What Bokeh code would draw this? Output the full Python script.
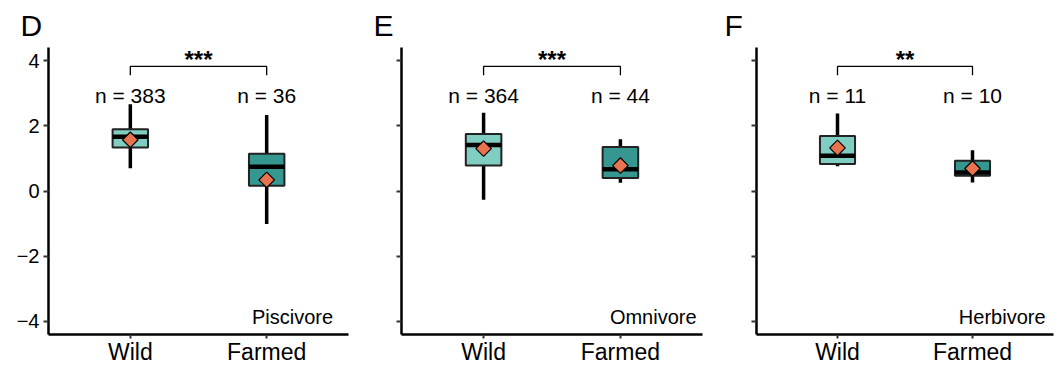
from bokeh.plotting import figure
from bokeh.layouts import row
from bokeh.models import FactorRange, Range1d, FixedTicker, CustomJSTickFormatter, ColumnDataSource
from bokeh.core.properties import value
from bokeh.embed import file_html
from bokeh.resources import INLINE
import math

# ---------------- data ----------------
groups = ["Wild", "Farmed"]
panel_letters = ["D", "E", "F"]
diets = ["Piscivore", "Omnivore", "Herbivore"]
n_counts = [[383, 36], [364, 44], [11, 10]]
signif = ["***", "***", "**"]

whisker_low = [[0.70, -1.01], [-0.27, 0.25], [0.76, 0.26]]
q1 = [[1.33, 0.16], [0.78, 0.40], [0.83, 0.47]]
median = [[1.66, 0.74], [1.41, 0.67], [1.08, 0.57]]
q3 = [[1.89, 1.14], [1.75, 1.35], [1.69, 0.93]]
whisker_high = [[2.66, 2.33], [2.40, 1.59], [2.38, 1.25]]
means = [[1.57, 0.34], [1.30, 0.78], [1.32, 0.69]]

y_ticks = [-4, -2, 0, 2, 4]

# ---------------- style / layout ----------------
FONT = "Liberation Sans"
fills = ["#80CDC1", "#35978F"]
mean_color = "#E8734F"
widths = [355, 353, 355]
border_left = [48, 46, 48]
border_right = [7, 6, 10]
letter_dx = [-28, -28, -32]
diet_x = [1.69, 1.74, 1.72]
box_w = 0.26

plots = []
for i in range(3):
    p = figure(
        width=widths[i], height=367,
        x_range=FactorRange(factors=groups, range_padding=0.1, range_padding_units="absolute"),
        y_range=Range1d(-4.4, 4.4),
        output_backend="svg", toolbar_location=None,
        min_border_left=border_left[i], min_border_right=border_right[i],
        min_border_top=47, min_border_bottom=33,
        title=panel_letters[i],
    )
    p.title.text_font = FONT
    p.title.text_font_size = "30px"
    p.title.text_font_style = "normal"
    p.title.text_color = "black"
    p.title.align = "left"
    p.title.offset = letter_dx[i]
    p.title.standoff = 11

    p.outline_line_color = None
    p.xgrid.visible = False
    p.ygrid.visible = False
    p.background_fill_color = "white"
    p.border_fill_color = "white"

    src = ColumnDataSource(dict(
        x=groups,
        lo=whisker_low[i], q1=q1[i], med=median[i], q3=q3[i], hi=whisker_high[i],
        mean=means[i], fill=fills,
        n=["n = %d" % v for v in n_counts[i]],
    ))

    # whiskers
    p.segment(x0="x", y0="lo", x1="x", y1="hi", source=src, line_color="black", line_width=3.5)
    # boxes
    p.vbar(x="x", width=box_w, bottom="q1", top="q3", source=src,
           fill_color="fill", line_color="#222222", line_width=2)
    # median
    p.vbar(x="x", width=box_w, bottom="med", top="med", source=src,
           fill_color=None, line_color="black", line_width=4.5)
    # mean
    p.scatter(x="x", y="mean", source=src, marker="square", size=11, angle=math.pi / 4,
              fill_color=mean_color, line_color="black", line_width=1.2)
    # n labels
    p.text(x="x", y=2.94, text="n", source=src, text_font=value(FONT), text_font_size="21px",
           text_align="center", text_baseline="middle", text_color="black")
    # significance bracket
    p.multi_line(xs=[[groups[0], groups[0], groups[1], groups[1]]],
                 ys=[[3.55, 3.82, 3.82, 3.55]], line_color="black", line_width=1.3)
    p.text(x=[1.0], y=[4.04], text=[signif[i]], text_font=value(FONT), text_font_size="24px",
           text_font_style="bold", text_align="center", text_baseline="middle", text_color="black")
    # diet label
    p.text(x=[diet_x[i]], y=[-3.87], text=[diets[i]], text_font=value(FONT), text_font_size="20px",
           text_align="center", text_baseline="middle", text_color="black")

    # axes
    for ax in (p.xaxis, p.yaxis):
        ax.axis_line_color = "black"
        ax.axis_line_width = 2.5
        ax.major_tick_line_color = "#333333"
        ax.major_tick_line_width = 2
        ax.major_tick_in = 0
        ax.minor_tick_line_color = None
        ax.major_label_text_font = FONT
        ax.major_label_text_color = "black"
    p.xaxis.major_tick_out = 4
    p.xaxis.major_label_standoff = 0
    p.xaxis.major_label_text_font_size = "23px"
    p.yaxis.major_tick_out = 5
    p.yaxis.major_label_standoff = 4
    p.yaxis.major_label_text_font_size = "20px"
    p.yaxis.ticker = FixedTicker(ticks=y_ticks)
    if i == 0:
        p.yaxis.major_label_overrides = {t: str(t).replace("-", "\u2212") for t in y_ticks}
    else:
        p.yaxis.formatter = CustomJSTickFormatter(code="return ''")
    plots.append(p)

layout = row(*plots, spacing=0)
open("out.html", "w").write(file_html(layout, INLINE))
